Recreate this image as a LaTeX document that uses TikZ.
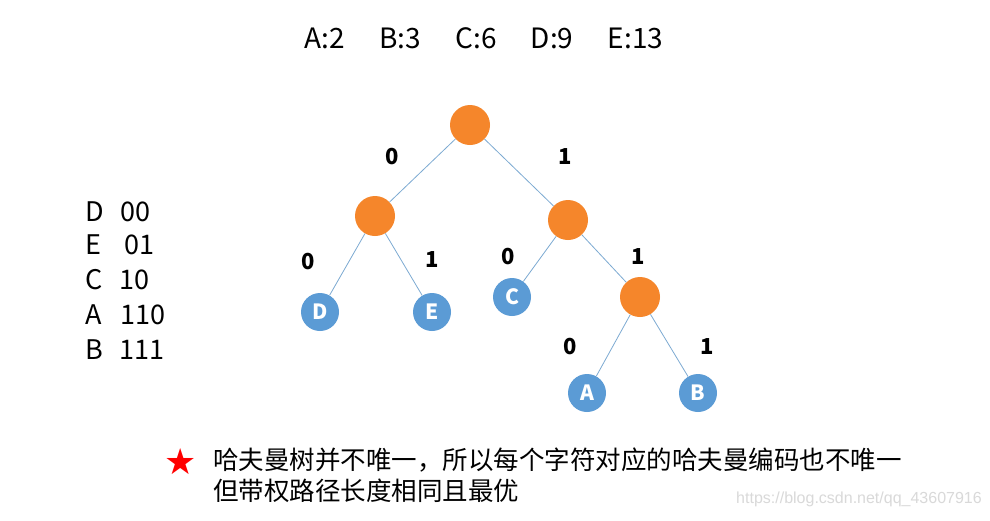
\documentclass[tikz,border=0pt]{standalone}
\usepackage{fontspec}
\setmainfont{Noto Sans CJK SC}
\newfontfamily\dejavu{DejaVu Sans}
\newfontfamily\lib{Liberation Sans}
\definecolor{org}{RGB}{245,134,43}
\definecolor{blu}{RGB}{91,155,213}
\definecolor{edg}{RGB}{125,170,210}
\begin{document}
\begin{tikzpicture}[x=1pt,y=-1pt,
 inner/.style={circle,fill=org,minimum size=40pt,inner sep=0pt},
 leaf/.style={circle,fill=blu,minimum size=38pt,inner sep=0pt,text=white,font=\fontsize{21}{21}\selectfont\bfseries},
 edge/.style={draw=edg,line width=0.8pt},
 lab/.style={font=\fontsize{22}{22}\selectfont\bfseries},
 txt/.style={anchor=west,font=\fontsize{27}{27}\selectfont},
 note/.style={anchor=west,inner sep=0pt,text height=18pt,text depth=3pt,font=\fontsize{25.5}{25.5}\selectfont}]
\fill[white] (0,0) rectangle (990,520);
\node (r) [inner] at (470,125) {};
\node (l1) [inner] at (375,216) {};
\node (r1) [inner] at (568,220) {};
\node (r2) [inner] at (640,297) {};
\node (D) [leaf] at (320,312) {D};
\node (E) [leaf] at (432,312) {E};
\node (C) [leaf] at (512,297) {C};
\node (A) [leaf] at (587,393) {A};
\node (B) [leaf] at (698,393) {B};
\foreach \a/\b in {r/l1,r/r1,l1/D,l1/E,r1/C,r1/r2,r2/A,r2/B} \draw[edge] (\a) -- (\b);
\node (t0) [lab] at (392,157) {0};
\node (t1) [lab] at (565,157) {1};
\node (t2) [lab] at (308,262) {0};
\node (t3) [lab] at (432,260) {1};
\node (t4) [lab] at (508,257) {0};
\node (t5) [lab] at (638,257) {1};
\node (t6) [lab] at (570,347) {0};
\node (t7) [lab] at (707,347) {1};
\node (top) [font=\fontsize{28}{28}\selectfont] at (484,38) {A:2\quad\ B:3\quad\ C:6\quad\ D:9\quad\ E:13};
\node (c1) [txt] at (82,212) {D\ \ \,00};
\node (c2) [txt] at (82,245) {E\ \ \ \,01};
\node (c3) [txt] at (82,280) {C\ \ \,10};
\node (c4) [txt] at (82,315) {A\ \ \ 110};
\node (c5) [txt] at (82,350) {B\ \ \,111};
\node (star) [text=red,font=\dejavu\fontsize{36}{36}\selectfont] at (181,462) {★};
\node (n1) [note] at (213,462) {哈夫曼树并不唯一，所以每个字符对应的哈夫曼编码也不唯一};
\node (n2) [note] at (213,493) {但带权路径长度相同且最优};
\node (wm) [text=black!15,font=\lib\fontsize{16}{16}\selectfont] at (859,499) {https://blog.csdn.net/qq\_43607916};
\end{tikzpicture}
\end{document}
